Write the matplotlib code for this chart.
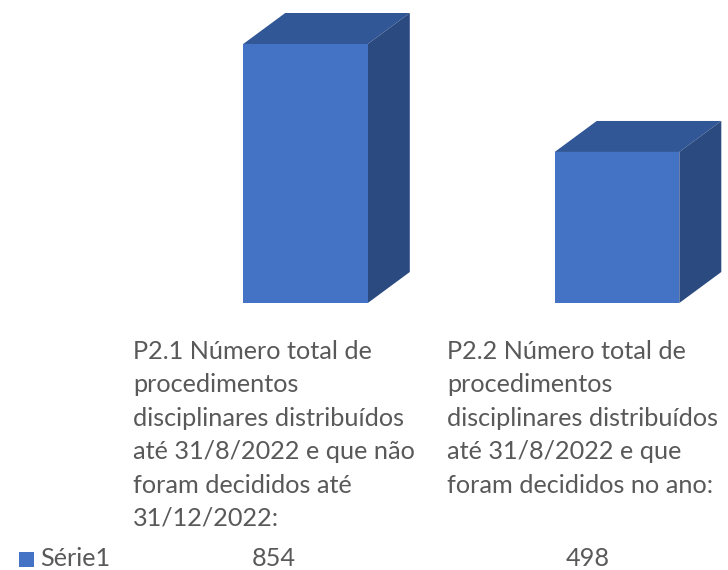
import matplotlib
matplotlib.use('Agg')
import matplotlib.pyplot as plt
from matplotlib.patches import Polygon, Rectangle
import numpy as np

# dados do gráfico
categories = [
    "P2.1 Número total de\nprocedimentos\ndisciplinares distribuídos\naté 31/8/2022 e que não\nforam decididos até\n31/12/2022:",
    "P2.2 Número total de\nprocedimentos\ndisciplinares distribuídos\naté 31/8/2022 e que\nforam decididos no ano:",
]
series_name = "Série1"
values = [854, 498]

# cores estilo Excel 3D
FRONT = '#4472C4'
TOP = '#325796'
SIDE = '#2B4A7F'
TEXT = '#595959'

W, H = 728, 570
plt.rcParams['font.family'] = ['Lato', 'DejaVu Sans']

fig = plt.figure(figsize=(W / 100, H / 100), dpi=100)


def fx(x):
    return x / W


def fy(y):
    # pixel a partir do topo -> fração da figura
    return 1 - y / H


# eixo dos bares: base em y=303 px, 854 -> 259 px
base_px = 303
ax_h = 1000 * 259 / 854
ax = fig.add_axes([0, fy(base_px), 1, ax_h / H])
ax.set_ylim(0, 1000)
unit = 311.5
ax.set_xlim(-305.5 / unit, (W - 305.5) / unit)
ax.axis('off')

x = np.arange(len(values))
bw = 0.40
ax.bar(x, values, width=bw, color=FRONT, edgecolor='none', zorder=3)

# profundidade 3D (em pixels) -> unidades de dados
p0 = ax.transData.transform((0, 0))
inv = ax.transData.inverted()
ddx, ddy = inv.transform(p0 + np.array([42, 31])) - inv.transform(p0)

for xi, v in zip(x, values):
    l, r = xi - bw / 2, xi + bw / 2
    top = Polygon([(l, v), (r, v), (r + ddx, v + ddy), (l + ddx, v + ddy)],
                  closed=True, facecolor=TOP, edgecolor='none', zorder=2, clip_on=False)
    side = Polygon([(r, 0), (r + ddx, ddy), (r + ddx, v + ddy), (r, v)],
                   closed=True, facecolor=SIDE, edgecolor='none', zorder=2, clip_on=False)
    ax.add_patch(top)
    ax.add_patch(side)

# tabela de dados: rótulos das categorias
col_left = [133, 447]
first_base = 359
pitch = 33.4
fs = 18.2
for cx, label in zip(col_left, categories):
    for i, line in enumerate(label.split('\n')):
        fig.text(fx(cx), fy(first_base + i * pitch), line, fontsize=fs, color=TEXT,
                 ha='left', va='baseline')

# linha da série
row_base = 566
fig.patches.append(Rectangle((fx(19), fy(567)), 15 / W, 15 / H, transform=fig.transFigure,
                             facecolor=FRONT, edgecolor='none'))
fig.text(fx(40), fy(row_base), series_name, fontsize=fs, color=TEXT, ha='left', va='baseline')
val_centers = [274, 588]
for cx, v in zip(val_centers, values):
    fig.text(fx(cx), fy(row_base), f"{v}", fontsize=fs, color=TEXT, ha='center', va='baseline')

fig.savefig('out.png', dpi=100)
